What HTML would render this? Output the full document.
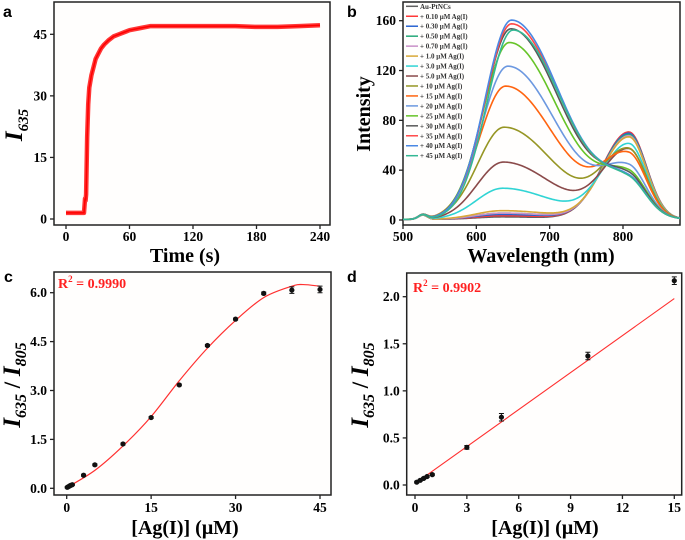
<!DOCTYPE html>
<html><head><meta charset="utf-8"><style>
html,body{margin:0;padding:0;background:#fff;width:685px;height:540px;overflow:hidden}
svg{display:block}
text{font-family:"Liberation Serif",serif;font-weight:bold}
text.lbl{font-family:"Liberation Sans",sans-serif}
</style></head><body>
<svg id="fig" width="685" height="540" viewBox="0 0 685 540"></svg>
<script>
// ---- Panel a data (time trace, anchor readings) ----
const aTime = [0,17,18,18.5,19,20,21,22,24,26,28,30,33,36,40,45,50,55,60,70,80,90,100,120,140,160,180,200,220,240];
const aVal  = [1.5,1.5,5,4.5,6,20,28,32,35,37,39,40,41.5,42.5,43.5,44.5,45,45.5,46,46.5,47,47,47,47,47,47,46.8,46.8,47,47.2];
const aXTicks = [0,60,120,180,240];
const aYTicks = [0,15,30,45];
// ---- Panel b data (spectra) ----
const bLabels = ["Au-PtNCs","+ 0.10 μM Ag(I)","+ 0.30 μM Ag(I)","+ 0.50 μM Ag(I)","+ 0.70 μM Ag(I)","+ 1.0 μM Ag(I)","+ 3.0 μM Ag(I)","+ 5.0 μM Ag(I)","+ 10 μM Ag(I)","+ 15 μM Ag(I)","+ 20 μM Ag(I)","+ 25 μM Ag(I)","+ 30 μM Ag(I)","+ 35 μM Ag(I)","+ 40 μM Ag(I)","+ 45 μM Ag(I)"];
const bColors = ["#606060","#ff3838","#2a64d0","#25a878","#c890c8","#d8a838","#30d4d4","#8a4a4a","#969624","#ff6410","#6c98e0","#66c428","#585858","#ff4848","#4a88e4","#34b894"];
const bPeak1 = [2,3,4,5,5,7,25,46,74,107,123,142,153,157,160,152];
const bPeak1Pos = [635,635,635,635,635,635,636,637,638,640,643,645,647,648,648,650];
const bPeak2 = [70,70,69,68,67,66,60,55,54,49,38,32,29,26,26,25];
const bXTicks = [500,600,700,800];
const bYTicks = [0,40,80,120,160];
// ---- Panel c data ----
const cConc = [0.1,0.3,0.5,0.7,1,3,5,10,15,20,25,30,35,40,45];
const cRatio = [0.03,0.05,0.07,0.09,0.11,0.40,0.72,1.36,2.17,3.17,4.38,5.19,5.98,6.08,6.10];
const cErr = [0.02,0.02,0.02,0.02,0.02,0.03,0.03,0.03,0.03,0.03,0.03,0.03,0.04,0.10,0.10];
const cFitX = [0,5,10,15,20,25,30,35,40,42,45];
const cFitY = [0.02,0.55,1.3,2.2,3.3,4.3,5.15,5.85,6.2,6.25,6.2];
const cXTicks = [0,15,30,45];
const cYTicks = [0,1.5,3.0,4.5,6.0];
// ---- Panel d data ----
const dConc = [0.1,0.3,0.5,0.7,1,3,5,10,15];
const dRatio = [0.03,0.05,0.07,0.09,0.11,0.40,0.72,1.37,2.17];
const dErr = [0.01,0.01,0.01,0.01,0.01,0.02,0.04,0.04,0.04];
const dSlope = 0.131, dIntercept = 0.015;
const dXTicks = [0,3,6,9,12,15];
const dYTicks = [0,0.5,1.0,1.5,2.0];

const NS="http://www.w3.org/2000/svg";
const fig=document.getElementById('fig');
function mk(tag,attrs,parent){const e=document.createElementNS(NS,tag);for(const k in attrs)e.setAttribute(k,attrs[k]);(parent||fig).appendChild(e);return e;}
function lin(d0,d1,r0,r1){return v=>r0+(v-d0)*(r1-r0)/(d1-d0);}

function axes(g,box,X,Y,xt,yt,fmtY,fmtX,tickY,labY){
  const fr=mk('rect',{x:box[0],y:box[1],width:box[2]-box[0],height:box[3]-box[1],fill:'#fffefd',stroke:'#222','stroke-width':1.5},g);
  
  
  xt.forEach(v=>{const x=X(v);
    const t=mk('line',{x1:x,x2:x,y1:box[3],y2:box[3]+4,stroke:'#222','stroke-width':1.3},g);
    
    
    const l=mk('text',{x:x,y:labY,'text-anchor':'middle','font-size':13.5},g);l.textContent=fmtX(v);
    
    });
  yt.forEach(v=>{const y=Y(v);
    const t=mk('line',{x1:box[0]-4,x2:box[0],y1:y,y2:y,stroke:'#222','stroke-width':1.3},g);
    
    
    const l=mk('text',{x:box[0]-7,y:y+4.5,'text-anchor':'end','font-size':13.5},g);l.textContent=fmtY(v);
    
    });
}
function txt(g,x,y,s,size,extra,name){const t=mk('text',Object.assign({x:x,y:y,'font-size':size},extra||{}),g);t.innerHTML=s;
  
  return t;}

// ===== Panel a =====
const ga=mk('g',{});
const aX=lin(0,240,66,320), aY=lin(0,45,219,34.3);
axes(ga,[54,2,330,225],aX,aY,aXTicks,aYTicks,v=>v,v=>v,0,241);
const aPts=aTime.map((t,i)=>aX(t)+','+aY(aVal[i])).join(' ');
const aBand=mk('polyline',{points:aPts,fill:'none',stroke:'#ff2020','stroke-width':4.5,'stroke-linejoin':'round',opacity:0.9},ga);


const aLine=mk('polyline',{points:aPts,fill:'none',stroke:'#ff0000','stroke-width':1.5},ga);


txt(ga,3,17,'a',16,{class:'lbl'},'panel-label-a');
txt(ga,185,262,'Time (s)',20,{'text-anchor':'middle'},'x-axis-title');
txt(ga,0,0,'<tspan font-style="italic" font-size="25">I</tspan><tspan font-style="italic" font-size="15" dy="6">635</tspan>',25,{transform:'translate(22,125) rotate(-90)','text-anchor':'middle'},'y-axis-title');

// ===== Panel b =====
const gb=mk('g',{});
const bX=lin(500,800,403,623), bY=lin(0,160,220,20.7);
axes(gb,[403,2,680,225],bX,bY,bXTicks,bYTicks,v=>v,v=>v,0,241);
const clip=mk('clipPath',{id:'bclip'},gb);mk('rect',{x:403,y:2,width:277,height:223},clip);
function spec(i,w){
  const c1=bPeak1Pos[i];
  const s1=w<c1?36:68;
  const p1=bPeak1[i]*Math.exp(-((w-c1)**2)/(2*s1*s1));
  const s2=w<808?36:24;
  const p2=bPeak2[i]*Math.exp(-((w-808)**2)/(2*s2*s2));
  const bump=3.5*Math.exp(-((w-527)**2)/(2*6*6));
  return p1+p2+bump+0.5;
}
bLabels.forEach((lab,i)=>{
  let pts=[];for(let w=500;w<=880;w+=2)pts.push(bX(w)+','+bY(spec(i,w)));
  const p=mk('polyline',{points:pts.join(' '),fill:'none',stroke:bColors[i],'stroke-width':1.6,'clip-path':'url(#bclip)'},gb);
  
  
});
bLabels.forEach((lab,i)=>{
  const y=6.3+i*9.96;
  const l=mk('line',{x1:406,x2:418,y1:y,y2:y,stroke:bColors[i],'stroke-width':1.5},gb);
  
  
  txt(gb,420,y+2.5,lab,7,{fill:'#333'},'legend-entry');
});
txt(gb,347,17,'b',16,{class:'lbl'},'panel-label-b');
txt(gb,541,262,'Wavelength (nm)',20,{'text-anchor':'middle'},'x-axis-title');
txt(gb,0,0,'Intensity',20,{transform:'translate(370,114) rotate(-90)','text-anchor':'middle'},'y-axis-title');

// ===== Panel c =====
const gc=mk('g',{});
const cX=lin(0,45,66.7,320), cY=lin(0,6,488.3,292.7);
axes(gc,[54,272,331,495],cX,cY,cXTicks,cYTicks,v=>v.toFixed(1),v=>v,0,512);
function smooth(xs,ys){let d='M'+xs[0]+','+ys[0];
  for(let i=0;i<xs.length-1;i++){const x0=xs[Math.max(i-1,0)],y0=ys[Math.max(i-1,0)],x1=xs[i],y1=ys[i],x2=xs[i+1],y2=ys[i+1],x3=xs[Math.min(i+2,xs.length-1)],y3=ys[Math.min(i+2,xs.length-1)];
    d+=` C${x1+(x2-x0)/6},${y1+(y2-y0)/6} ${x2-(x3-x1)/6},${y2-(y3-y1)/6} ${x2},${y2}`;}return d;}
const cf=mk('path',{d:smooth(cFitX.map(cX),cFitY.map(cY)),fill:'none',stroke:'#ff3030','stroke-width':1.2},gc);


function points(g,xs,ys,es,X,Y){xs.forEach((x,i)=>{const px=X(x),py=Y(ys[i]),t=Y(ys[i]+es[i]),b=Y(ys[i]-es[i]);
  const e=mk('path',{d:`M${px},${t}V${b}M${px-2.5},${t}H${px+2.5}M${px-2.5},${b}H${px+2.5}`,stroke:'#111','stroke-width':1},g);
  
  
  const c=mk('circle',{cx:px,cy:py,r:2.6,fill:'#111'},g);
  
  });}
points(gc,cConc,cRatio,cErr,cX,cY);
txt(gc,58,288,'R<tspan font-size="9" dy="-6">2</tspan><tspan dy="6"> = 0.9990</tspan>',14,{fill:'#ff2020'},'r-squared-label');
txt(gc,4,282,'c',16,{class:'lbl'},'panel-label-c');
txt(gc,185,534,'[Ag(I)] (μM)',20,{'text-anchor':'middle'},'x-axis-title');
txt(gc,0,0,'<tspan font-style="italic" font-size="25">I</tspan><tspan font-style="italic" font-size="16" dy="6">635</tspan><tspan dy="-6"> / </tspan><tspan font-style="italic" font-size="25">I</tspan><tspan font-style="italic" font-size="16" dy="6">805</tspan>',23,{transform:'translate(20,385) rotate(-90)','text-anchor':'middle'},'y-axis-title');

// ===== Panel d =====
const gd=mk('g',{});
const dX=lin(0,15,415,674.3), dY=lin(0,2,485,296.7);
axes(gd,[406.7,273,681.7,495],dX,dY,dXTicks,dYTicks,v=>v.toFixed(1),v=>v,0,512);
const dl=mk('line',{x1:dX(dConc[0]),y1:dY(dIntercept+dSlope*dConc[0]),x2:dX(15),y2:dY(dIntercept+dSlope*15),stroke:'#ff3030','stroke-width':1.1},gd);


points(gd,dConc,dRatio,dErr,dX,dY);
txt(gd,413,292,'R<tspan font-size="9" dy="-6">2</tspan><tspan dy="6"> = 0.9902</tspan>',14,{fill:'#ff2020'},'r-squared-label');
txt(gd,347,282,'d',16,{class:'lbl'},'panel-label-d');
txt(gd,545,534,'[Ag(I)] (μM)',20,{'text-anchor':'middle'},'x-axis-title');
txt(gd,0,0,'<tspan font-style="italic" font-size="25">I</tspan><tspan font-style="italic" font-size="16" dy="6">635</tspan><tspan dy="-6"> / </tspan><tspan font-style="italic" font-size="25">I</tspan><tspan font-style="italic" font-size="16" dy="6">805</tspan>',23,{transform:'translate(368,385) rotate(-90)','text-anchor':'middle'},'y-axis-title');
</script>
</body></html>
